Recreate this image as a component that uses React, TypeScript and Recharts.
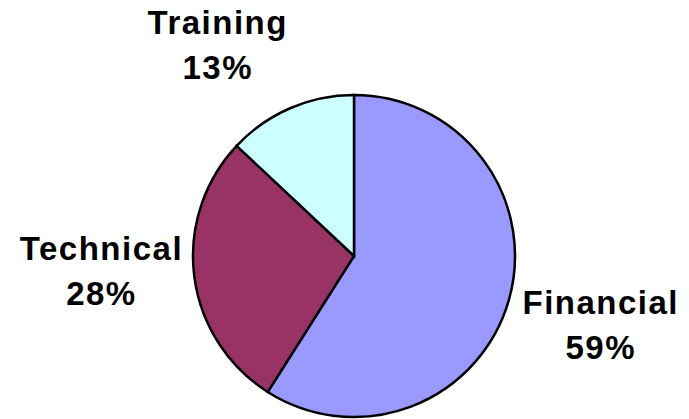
import React from 'react'
import { PieChart, Pie, Cell } from 'recharts'

const categories = ['Financial', 'Technical', 'Training']
const shares = [59, 28, 13]
const sliceColors = ['#9999FF', '#993366', '#CCFFFF']

const data = categories.map((name, i) => ({ name, value: shares[i] }))

const RADIAN = Math.PI / 180
const FONT = 'Arial, "Liberation Sans", Helvetica, sans-serif'

const clamp = (v: number) => Math.max(-1, Math.min(1, v))

// labels sit outside the pie, box pushed away from the slice's mid angle
const renderLabel = (props: any) => {
  const { cx, cy, midAngle, outerRadius, name, value } = props
  const cos = Math.cos(-midAngle * RADIAN)
  const sin = Math.sin(-midAngle * RADIAN)
  const r = outerRadius + 21
  const halfW = String(name).length * 8
  const bx = cx + r * cos + halfW * clamp(cos * 3)
  const by = cy + r * sin - 14 + 34 * clamp(sin * 3) - 7.4 * sin + 5.7 * cos
  return (
    <text
      x={bx}
      y={by}
      textAnchor="middle"
      fill="#000"
      fontFamily={FONT}
      fontWeight="bold"
      fontSize={33}
      letterSpacing={1.5}
    >
      <tspan x={bx} dy={-11}>{name}</tspan>
      <tspan x={bx} dy={45}>{`${value}%`}</tspan>
    </text>
  )
}

export default function App() {
  return (
    <div style={{ width: 689, height: 419, background: '#fff' }}>
      <style>{'body{margin:0}'}</style>
      <PieChart width={689} height={419} margin={{ top: 0, right: 0, bottom: 0, left: 0 }}>
        <Pie
          data={data}
          dataKey="value"
          nameKey="name"
          cx={354}
          cy={256}
          outerRadius={161}
          startAngle={90}
          endAngle={-270}
          stroke="#000"
          strokeWidth={2.5}
          labelLine={false}
          label={renderLabel}
          isAnimationActive={false}
        >
          {data.map((entry, i) => (
            <Cell key={entry.name} fill={sliceColors[i]} />
          ))}
        </Pie>
      </PieChart>
    </div>
  )
}
